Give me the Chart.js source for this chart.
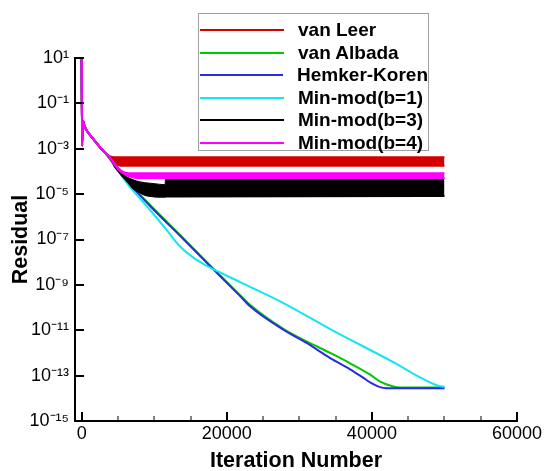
<!DOCTYPE html>
<html>
<head>
<meta charset="utf-8">
<script src="https://cdn.jsdelivr.net/npm/chart.js@4/dist/chart.umd.min.js"></script>
<style>
html,body{margin:0;padding:0;background:#fff;}
#wrap{position:relative;width:545px;height:471px;}
#legend{position:absolute;left:198px;top:13px;width:231px;height:138px;border:1px solid #a0a0a0;background:#fff;box-sizing:border-box;padding-top:5px;font:bold 19px "Liberation Sans",Arial,sans-serif;color:#000;}
.row{display:flex;align-items:center;height:22.5px;white-space:nowrap;}
.sw{width:84px;height:0;border-top:2px solid;margin-left:1px;margin-right:14px;}
</style>
</head>
<body>
<div id="wrap">
<canvas id="c" width="545" height="471"></canvas>
<div id="legend"></div>
</div>
<script>
// ---- data ----
const seriesNames = ['van Leer','van Albada','Hemker-Koren','Min-mod(b=1)','Min-mod(b=3)','Min-mod(b=4)'];

// common start of all residual histories
const startIter = [0, 60, 150, 400, 700, 1300, 2000, 2700, 3300];
const startRes  = [10, 1.4e-3, 1.7e-2, 1.0e-2, 6.3e-3, 3.5e-3, 1.86e-3, 1.0e-3, 6.3e-4];

// van Leer: oscillating band (upper / lower envelope)
const vanLeerIter = [3900, 4500, 5400, 50000];
const vanLeerHigh = [4.6e-4, 4.2e-4, 4.2e-4, 4.2e-4];
const vanLeerLow  = [3.4e-4, 2.2e-4, 1.8e-4, 1.8e-4];

// van Albada
const vanAlbadaIter = [4500, 6000, 9430, 14000, 18150, 21840, 23200, 27800, 31000, 34250, 37000, 39770, 41150, 42940, 44000, 50000];
const vanAlbadaRes  = [2.34e-4, 5.0e-5, 3.3e-6, 1.15e-7, 5.1e-9, 3.5e-10, 1.32e-10, 1.15e-11, 3.2e-12, 1.0e-12, 3.5e-13, 1.1e-13, 5.4e-14, 3.3e-14, 3.0e-14, 3.0e-14];

// Hemker-Koren
const hemkerIter = [4500, 6000, 9430, 14000, 18150, 21840, 23200, 27800, 31000, 34250, 37000, 38840, 40000, 41000, 42000, 50000];
const hemkerRes  = [2.24e-4, 4.7e-5, 3.0e-6, 1.05e-7, 4.9e-9, 3.2e-10, 1.15e-10, 1.05e-11, 2.75e-12, 5.9e-13, 1.9e-13, 7.9e-14, 4.5e-14, 3.2e-14, 2.8e-14, 2.8e-14];

// Min-mod(b=1)
const minmod1Iter = [4500, 6000, 9430, 11720, 13560, 15400, 17000, 18150, 21840, 27800, 34250, 43450, 45740, 48040, 49000, 50000];
const minmod1Res  = [2.1e-4, 3.8e-5, 2.0e-6, 2.6e-7, 4.9e-8, 1.58e-8, 7.6e-9, 4.9e-9, 1.32e-9, 1.58e-10, 1.12e-11, 3.2e-13, 1.2e-13, 5.0e-14, 3.7e-14, 3.2e-14];

// Min-mod(b=3): oscillating band
const minmod3Iter = [4000, 4550, 5470, 6200, 7100, 8000, 8700, 10000, 11500, 11550, 50000];
const minmod3High = [3.8e-4, 2.0e-4, 9.3e-5, 5.8e-5, 4.3e-5, 3.5e-5, 3.2e-5, 2.9e-5, 2.6e-5, 5.0e-5, 5.0e-5];
const minmod3Low  = [3.5e-4, 1.66e-4, 7.1e-5, 4.0e-5, 1.8e-5, 1.2e-5, 9.3e-6, 7.9e-6, 7.6e-6, 7.9e-6, 8.3e-6];

// Min-mod(b=4): oscillating band
const minmod4Iter = [4000, 4550, 5470, 6500, 7500, 50000];
const minmod4High = [3.8e-4, 2.1e-4, 1.07e-4, 8.3e-5, 8.3e-5, 8.3e-5];
const minmod4Low  = [3.5e-4, 1.9e-4, 9.3e-5, 6.3e-5, 5.1e-5, 5.1e-5];

// axes
const xTickValues = [0, 5000, 10000, 15000, 20000, 25000, 30000, 35000, 40000, 45000, 50000, 55000, 60000];
const xMajorTicks = [0, 20000, 40000, 60000];
const yTickValues = [1e1, 1e-1, 1e-3, 1e-5, 1e-7, 1e-9, 1e-11, 1e-13, 1e-15];
const yTickLabels = ['10\u00B9','10\u207B\u00B9','10\u207B\u00B3','10\u207B\u2075','10\u207B\u2077','10\u207B\u2079','10\u207B\u00B9\u00B9','10\u207B\u00B9\u00B3','10\u207B\u00B9\u2075'];

const colors = ['#d40000', '#00c800', '#2a2ae6', '#12e6f0', '#000000', '#ff00ff'];

// ---- build ----
function pts(xs, ys) {
  const X = startIter.concat(xs), Y = startRes.concat(ys);
  return X.map((x, i) => ({x: x, y: Y[i]}));
}
function line(label, data, color, order, extra) {
  return Object.assign({
    label: label, data: data, borderColor: color, backgroundColor: color,
    borderWidth: 2, pointRadius: 0, fill: false, order: order,
    cubicInterpolationMode: 'monotone', legendEntry: true
  }, extra || {});
}
const datasets = [
  line(seriesNames[0], pts(vanLeerIter, vanLeerHigh), colors[0], 5),
  line(seriesNames[0] + ' (low)', pts(vanLeerIter, vanLeerLow), colors[0], 5, {fill: '-1', legendEntry: false}),
  line(seriesNames[1], pts(vanAlbadaIter, vanAlbadaRes), colors[1], 4),
  line(seriesNames[2], pts(hemkerIter, hemkerRes), colors[2], 3),
  line(seriesNames[3], pts(minmod1Iter, minmod1Res), colors[3], 2),
  line(seriesNames[4], pts(minmod3Iter, minmod3High), colors[4], 1, {borderWidth: 1}),
  line(seriesNames[4] + ' (low)', pts(minmod3Iter, minmod3Low), colors[4], 1, {fill: '-1', legendEntry: false}),
  line(seriesNames[5], pts(minmod4Iter, minmod4High), colors[5], 0),
  line(seriesNames[5] + ' (low)', pts(minmod4Iter, minmod4Low), colors[5], 0, {fill: '-1', legendEntry: false})
];

const inwardTicks = {
  id: 'inwardTicks',
  afterDraw(chart) {
    const {ctx, chartArea: a} = chart;
    const x = chart.scales.x, y = chart.scales.y;
    ctx.save();
    ctx.strokeStyle = '#000';
    x.ticks.forEach(t => {
      const px = Math.round(x.getPixelForValue(t.value));
      const major = xMajorTicks.includes(t.value);
      ctx.lineWidth = major ? 2 : 1;
      ctx.beginPath(); ctx.moveTo(px, a.bottom); ctx.lineTo(px, a.bottom - (major ? 9 : 5)); ctx.stroke();
    });
    y.ticks.forEach(t => {
      const py = Math.round(y.getPixelForValue(t.value));
      ctx.lineWidth = 2;
      ctx.beginPath(); ctx.moveTo(a.left, py); ctx.lineTo(a.left + 9, py); ctx.stroke();
    });
    ctx.restore();
  }
};

Chart.defaults.font.family = '"Liberation Sans", Arial, sans-serif';
Chart.defaults.color = '#000';

const chart = new Chart(document.getElementById('c'), {
  type: 'line',
  data: {datasets: datasets},
  options: {
    responsive: false,
    animation: false,
    layout: {padding: {top: 58, right: 28, left: 0, bottom: 0}},
    plugins: {legend: {display: false}, tooltip: {enabled: false}},
    scales: {
      x: {
        type: 'linear', min: -920, max: 60000,
        grid: {display: false, drawTicks: false},
        border: {display: true, color: '#000', width: 2},
        afterBuildTicks: s => { s.ticks = xTickValues.map(v => ({value: v})); },
        afterFit: s => { s.height = 50; },
        ticks: {
          autoSkip: false, maxRotation: 0, padding: 2,
          font: {size: 18},
          callback: v => xMajorTicks.includes(v) ? String(v) : ''
        },
        title: {display: true, text: 'Iteration Number', font: {size: 21.5, weight: 'bold'}, padding: {top: 0, bottom: -3}}
      },
      y: {
        type: 'logarithmic', min: 1e-15, max: 10,
        grid: {display: false, drawTicks: false},
        border: {display: true, color: '#000', width: 2},
        afterBuildTicks: s => { s.ticks = yTickValues.map(v => ({value: v})); },
        afterFit: s => { s.width = 75; },
        ticks: {
          autoSkip: false, padding: 6,
          font: {size: 18},
          callback: (v, i) => yTickLabels[i]
        },
        title: {display: true, text: 'Residual', font: {size: 21.5, weight: 'bold'}, padding: {top: 8, bottom: 0}}
      }
    }
  },
  plugins: [inwardTicks]
});

// legend built from the chart's datasets
const lg = document.getElementById('legend');
chart.data.datasets.filter(d => d.legendEntry).forEach(d => {
  const row = document.createElement('div'); row.className = 'row';
  const sw = document.createElement('span'); sw.className = 'sw'; sw.style.borderTopColor = d.borderColor;
  const tx = document.createElement('span'); tx.textContent = d.label;
  row.appendChild(sw); row.appendChild(tx); lg.appendChild(row);
});
</script>
</body>
</html>
